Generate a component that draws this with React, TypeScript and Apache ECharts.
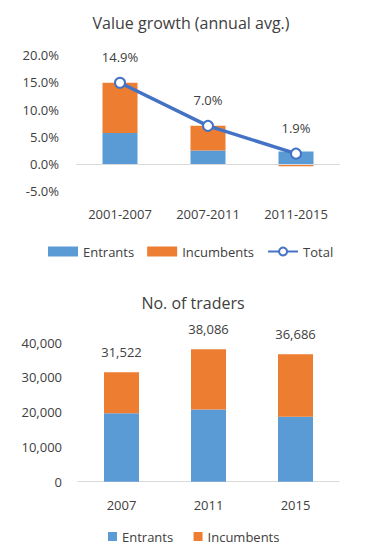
import React, { useEffect, useRef } from "react";
import * as echarts from "echarts";

const periods = ["2001-2007", "2007-2011", "2011-2015"];
const growthEntrants = [5.7, 2.5, 2.3];
const growthIncumbents = [9.2, 4.5, -0.4];
const growthTotal = [14.9, 7.0, 1.9];

const years = ["2007", "2011", "2015"];
const tradersEntrants = [19700, 20800, 18700];
const tradersIncumbents = [11822, 17286, 17986];
const tradersTotal = [31522, 38086, 36686];

const BLUE = "#5B9BD5";
const ORANGE = "#ED7D31";
const LINE = "#4472C4";
const TEXT = "#404040";
const FONT = "Open Sans";

export default function App() {
  const ref = useRef<HTMLDivElement>(null);
  useEffect(() => {
    const chart = echarts.init(ref.current!, null, { renderer: "svg" });
    const axisLabel = { color: TEXT, fontSize: 13, fontFamily: FONT };
    chart.setOption({
      animation: false,
      textStyle: { fontFamily: FONT },
      title: [
        {
          text: "Value growth (annual avg.)",
          left: 186,
          top: 10,
          textAlign: "center",
          textStyle: { color: TEXT, fontSize: 16, fontWeight: "normal", fontFamily: FONT },
        },
        {
          text: "No. of traders",
          left: 188,
          top: 290,
          textAlign: "center",
          textStyle: { color: TEXT, fontSize: 16, fontWeight: "normal", fontFamily: FONT },
        },
      ],
      legend: [
        {
          left: 43,
          top: 240,
          itemWidth: 30,
          itemHeight: 10,
          itemGap: 13,
          textStyle: { color: TEXT, fontSize: 13, fontFamily: FONT },
          data: [
            { name: "Entrants", icon: "rect" },
            { name: "Incumbents", icon: "rect" },
            { name: "Total" },
          ],
        },
        {
          left: 103,
          top: 525,
          itemWidth: 9,
          itemHeight: 9,
          itemGap: 17,
          textStyle: { color: TEXT, fontSize: 13, fontFamily: FONT },
          data: [
            { name: "Entrants ", icon: "rect" },
            { name: "Incumbents ", icon: "rect" },
          ],
        },
      ],
      grid: [
        { left: 76, right: 25, top: 55, height: 136.25 },
        { left: 78, right: 26, top: 342.7, height: 139 },
      ],
      xAxis: [
        {
          type: "category",
          gridIndex: 0,
          data: periods,
          axisLine: { show: false, onZero: false },
          axisTick: { show: false },
          axisLabel: { ...axisLabel, margin: 16 },
        },
        {
          type: "category",
          gridIndex: 1,
          data: years,
          axisLine: { show: true, lineStyle: { color: "#D9D9D9", width: 1 } },
          axisTick: { show: false },
          axisLabel: { ...axisLabel, margin: 17 },
        },
      ],
      yAxis: [
        {
          type: "value",
          gridIndex: 0,
          min: -5,
          max: 20,
          interval: 5,
          splitLine: { show: false },
          axisLine: { show: false },
          axisTick: { show: false },
          axisLabel: { ...axisLabel, margin: 17, formatter: (v: number) => v.toFixed(1) + "%" },
        },
        {
          type: "value",
          gridIndex: 1,
          min: 0,
          max: 40000,
          interval: 10000,
          splitLine: { show: false },
          axisLine: { show: false },
          axisTick: { show: false },
          axisLabel: {
            ...axisLabel,
            margin: 16,
            formatter: (v: number) => v.toLocaleString("en-US"),
          },
        },
      ],
      series: [
        {
          name: "Entrants",
          type: "bar",
          xAxisIndex: 0,
          yAxisIndex: 0,
          stack: "g",
          barWidth: 35,
          itemStyle: { color: BLUE },
          data: growthEntrants,
          markLine: {
            silent: true,
            symbol: "none",
            label: { show: false },
            lineStyle: { color: "#D9D9D9", type: "solid", width: 1 },
            data: [{ yAxis: 0 }],
          },
        },
        {
          name: "Incumbents",
          type: "bar",
          xAxisIndex: 0,
          yAxisIndex: 0,
          stack: "g",
          barWidth: 35,
          itemStyle: { color: ORANGE },
          data: growthIncumbents,
        },
        {
          name: "Total",
          type: "line",
          xAxisIndex: 0,
          yAxisIndex: 0,
          data: growthTotal,
          symbol: "emptyCircle",
          symbolSize: 10,
          lineStyle: { color: LINE, width: 3.5 },
          itemStyle: { color: LINE, borderWidth: 2 },
          label: {
            show: true,
            position: "top",
            distance: 13,
            color: TEXT,
            fontSize: 13,
            fontFamily: FONT,
            formatter: (p: any) => p.value.toFixed(1) + "%",
          },
          z: 5,
        },
        {
          name: "Entrants ",
          type: "bar",
          xAxisIndex: 1,
          yAxisIndex: 1,
          stack: "t",
          barWidth: 35,
          itemStyle: { color: BLUE },
          data: tradersEntrants,
        },
        {
          name: "Incumbents ",
          type: "bar",
          xAxisIndex: 1,
          yAxisIndex: 1,
          stack: "t",
          barWidth: 35,
          itemStyle: { color: ORANGE },
          data: tradersIncumbents,
          label: {
            show: true,
            position: "top",
            distance: 14,
            color: TEXT,
            fontSize: 13,
            fontFamily: FONT,
            formatter: (p: any) => tradersTotal[p.dataIndex].toLocaleString("en-US"),
          },
        },
      ],
    });
    return () => chart.dispose();
  }, []);
  return (
    <div
      ref={ref}
      style={{ position: "absolute", left: 0, top: 0, width: 365, height: 559, background: "#fff" }}
    />
  );
}
